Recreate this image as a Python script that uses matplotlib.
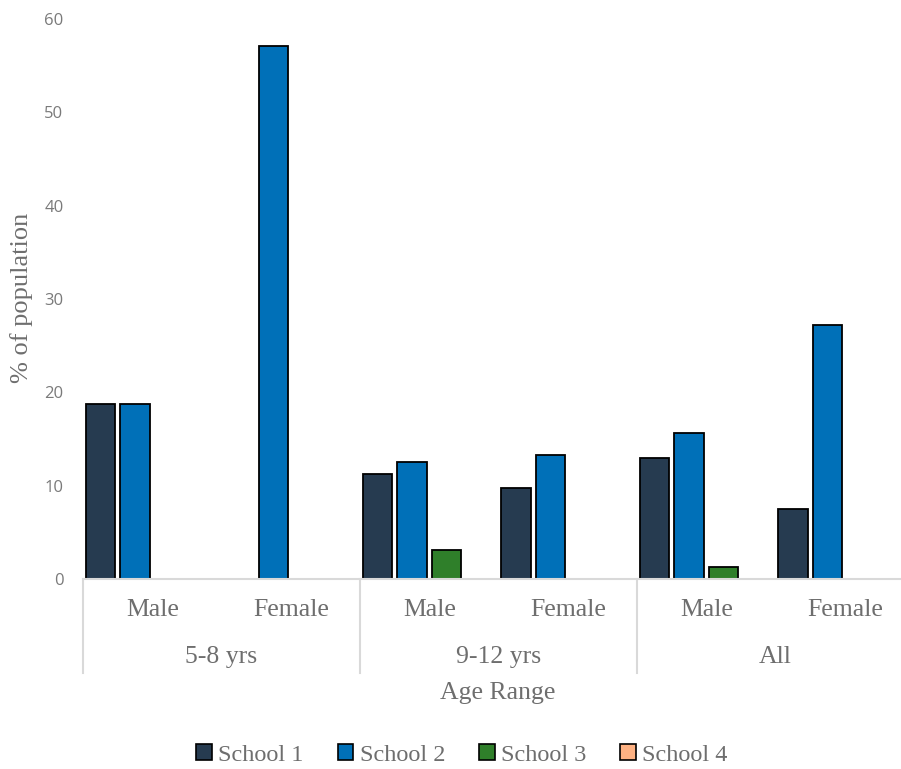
import matplotlib
matplotlib.use("Agg")
import matplotlib.pyplot as plt
import matplotlib.transforms as mtransforms
from matplotlib.patches import Patch
import numpy as np

groups = ["5-8 yrs", "9-12 yrs", "All"]
subcats = ["Male", "Female", "Male", "Female", "Male", "Female"]
series_names = ["School 1", "School 2", "School 3", "School 4"]
school1 = [18.75, 0, 11.25, 9.8, 13.0, 7.5]
school2 = [18.75, 57.1, 12.5, 13.3, 15.6, 27.25]
school3 = [0, 0, 3.1, 0, 1.3, 0]
school4 = [0, 0, 0, 0, 0, 0]
colors = ["#263b50", "#0070b8", "#2f7f2a", "#ffb283"]
yticks = [0, 10, 20, 30, 40, 50, 60]

W, H = 901, 769
fig = plt.figure(figsize=(W / 100, H / 100), dpi=100)
ax = fig.add_axes([83 / W, 190 / H, 831 / W, 560 / H])

serif = ["Liberation Serif", "DejaVu Serif"]
tcol = "#6e6e6e"

x = np.arange(len(subcats)) + 0.5
slot = 0.25
bw = 0.213
all_series = [school1, school2, school3, school4]
for j, (vals, c) in enumerate(zip(all_series, colors)):
    edges = ["black" if v > 0 else "none" for v in vals]
    ax.bar(x + (j - 1.5) * slot, vals, width=bw, color=c, edgecolor=edges,
           linewidth=1.3, zorder=3)

ax.set_xlim(0, len(subcats))
ax.set_ylim(0, 60)
ax.set_yticks(yticks)
ax.set_yticklabels([str(v) for v in yticks], fontfamily="Open Sans",
                   fontsize=12, color="#7a7a7a")
ax.tick_params(axis="y", length=0, pad=14)
ax.set_xticks([])
for s in ["top", "right", "left"]:
    ax.spines[s].set_visible(False)
ax.spines["bottom"].set_color("#d9d9d9")
ax.spines["bottom"].set_linewidth(1.5)
ax.spines["bottom"].set_zorder(4)

trans = mtransforms.blended_transform_factory(ax.transData, ax.transAxes)
for i, lab in enumerate(subcats):
    ax.text(x[i], -0.0554, lab, transform=trans, ha="center", va="center",
            fontfamily=serif, fontsize=18.5, color=tcol)
for g, lab in enumerate(groups):
    ax.text(2 * g + 1, -0.139, lab, transform=trans, ha="center", va="center",
            fontfamily=serif, fontsize=18.5, color=tcol)
for b in [0, 2, 4, 6]:
    ax.plot([b, b], [0, -0.168], transform=trans, color="#d9d9d9",
            linewidth=1.5, clip_on=False)

fig.text(498 / W, 1 - 693 / H, "Age Range", ha="center", va="center",
         fontfamily=serif, fontsize=18.5, color=tcol)
fig.text(22 / W, 1 - 298 / H, "% of population", ha="center", va="center",
         rotation=90, fontfamily=serif, fontsize=19, color=tcol)

handles = [Patch(facecolor=c, edgecolor="black", linewidth=1.2) for c in colors]
leg = fig.legend(handles, series_names, loc="center", bbox_to_anchor=(462 / W, 1 - 755 / H),
                 ncol=4, frameon=False, handlelength=0.65, handleheight=0.65,
                 handletextpad=0.25, columnspacing=1.4,
                 prop={"family": serif, "size": 17.5})
for t in leg.get_texts():
    t.set_color(tcol)

fig.savefig("out.png", dpi=100)
